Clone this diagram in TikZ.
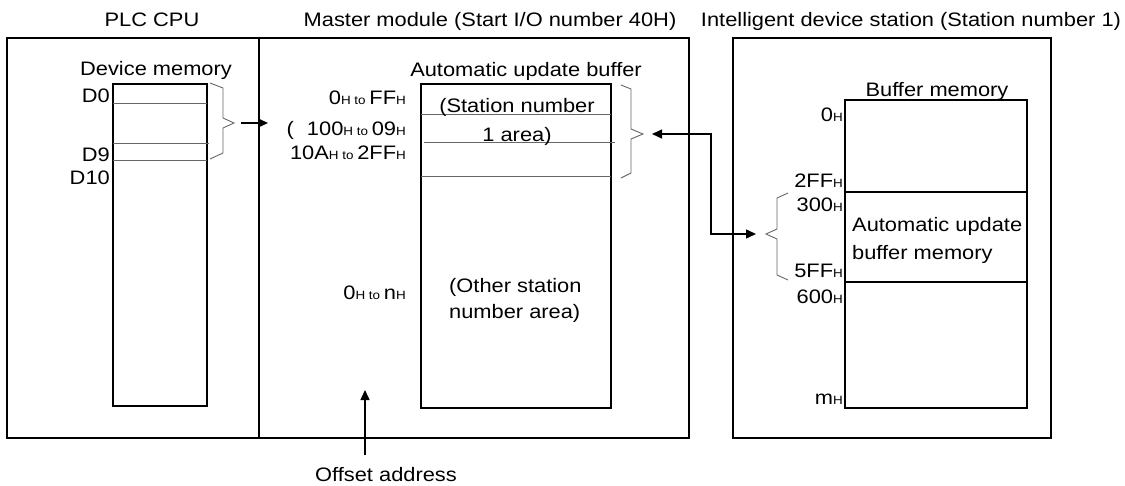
\documentclass[tikz,border=0pt]{standalone}
\usepackage{fontspec}
\setmainfont{Liberation Sans}[FakeStretch=1.12]
\usetikzlibrary{arrows.meta}

\newcommand{\hsub}{{\fontsize{12}{13}\selectfont H}}
\newcommand{\tosep}{{\fontsize{12}{13}\selectfont\ to\ }}

\begin{document}
\begin{tikzpicture}[x=1pt,y=-1pt,
      lbl/.style={inner sep=0pt,font=\fontsize{19.5}{23}\selectfont},
      frame/.style={draw,line width=1.3pt},
      mem/.style={draw,line width=1.8pt},
      sep/.style={draw=black!60,line width=0.9pt},
      brc/.style={draw=black!60,line width=0.9pt},
      arr/.style={-{Triangle[length=10pt,width=9pt]},line width=1.4pt},
      darr/.style={{Triangle[length=10pt,width=9pt]}-{Triangle[length=10pt,width=9pt]},line width=1.4pt}
    ]
      \useasboundingbox (0,0) rectangle (1125,486);

      % frames
      \draw[frame] (7,38) rectangle (259,438);
      \draw[frame] (259,38) rectangle (689,438);
      \draw[frame] (733,38) rectangle (1051,438);
      \node[lbl,anchor=base] (plc) at (152,27) {PLC CPU};
      \node[lbl,anchor=base] (master) at (490,27) {Master module (Start I/O number 40H)};
      \node[lbl,anchor=base] (station) at (911,27) {Intelligent device station (Station number 1)};

      % PLC CPU
      \node[lbl,anchor=base] (devmem) at (156,76) {Device memory};
      \draw[mem] (113,84) rectangle (207,406);
      \foreach \y/\x in {103/207,143/209,160/207}
        \draw[sep] (113,\y) -- (\x,\y);
      \node[lbl,anchor=base east] (d0) at (110,103) {D0};
      \node[lbl,anchor=base east] (d9) at (110,162) {D9};
      \node[lbl,anchor=base east] (d10) at (110,185) {D10};
      \draw[brc] (210,83) -- (223,88) -- (223,118) -- (234,123) -- (223,128) -- (223,153) -- (210,159);
      \coordinate (devtip) at (234,123);
      \coordinate (devend) at (268,123);
      \draw[arr,shorten <=7pt] (devtip) -- (devend);

      % master module
      \node[lbl,anchor=base] (autobuf) at (526,77) {Automatic update buffer};
      \draw[mem] (421,84) rectangle (611,408);
      \draw[sep] (421,114) -- (611,114);
      \draw[sep] (424,142) -- (615,142);
      \draw[sep] (421,176) -- (611,176);
      \node[lbl,anchor=base] (st1a) at (517,113) {(Station number};
      \node[lbl,anchor=base] (st1b) at (517,142) {1 area)};
      \node[lbl,anchor=base west] (otha) at (449,293) {(Other station};
      \node[lbl,anchor=base west] (othb) at (449,319) {number area)};
      \node[lbl,anchor=base east] (ofs1) at (406,105) {0\hsub\tosep FF\hsub};
      \node[lbl,anchor=base east] (ofs2) at (406,136) {(\hspace{13pt}100\hsub\tosep 09\hsub};
      \node[lbl,anchor=base east] (ofs3) at (406,160) {10A\hsub\tosep 2FF\hsub};
      \node[lbl,anchor=base east] (ofs4) at (406,300) {0\hsub\tosep n\hsub};
      \draw[brc] (621,85) -- (631,89) -- (631,129) -- (643,134) -- (631,139) -- (631,173) -- (621,178);
      \coordinate (mastip) at (643,134);

      % offset address
      \node[lbl,anchor=base] (offset) at (386,481) {Offset address};
      \coordinate (offtail) at (365,455);
      \coordinate (offhead) at (365,390);
      \draw[arr] (offtail) -- (offhead);

      % intelligent device station
      \node[lbl,anchor=base] (bufmem) at (937,97) {Buffer memory};
      \draw[mem] (845,100) rectangle (1027,408);
      \draw[mem] (845,192) -- (1027,192);
      \draw[mem] (845,282) -- (1027,282);
      \node[lbl,anchor=base west] (aubm1) at (852,232) {Automatic update};
      \node[lbl,anchor=base west] (aubm2) at (852,260) {buffer memory};
      \node[lbl,anchor=base east] (a0) at (843,122) {0\hsub};
      \node[lbl,anchor=base east] (a2ff) at (843,188) {2FF\hsub};
      \node[lbl,anchor=base east] (a300) at (843,212) {300\hsub};
      \node[lbl,anchor=base east] (a5ff) at (843,278) {5FF\hsub};
      \node[lbl,anchor=base east] (a600) at (843,304) {600\hsub};
      \node[lbl,anchor=base east] (am) at (843,405) {m\hsub};
      \draw[brc] (788,193) -- (777,198) -- (777,229) -- (766,234) -- (777,239) -- (777,275) -- (788,280);
      \coordinate (inttip) at (766,234);

      % link
      \coordinate (bend) at (711,134);
      \draw[darr,shorten <=9pt,shorten >=10pt] (mastip) -- (bend) |- (inttip);
    \end{tikzpicture}
\end{document}
